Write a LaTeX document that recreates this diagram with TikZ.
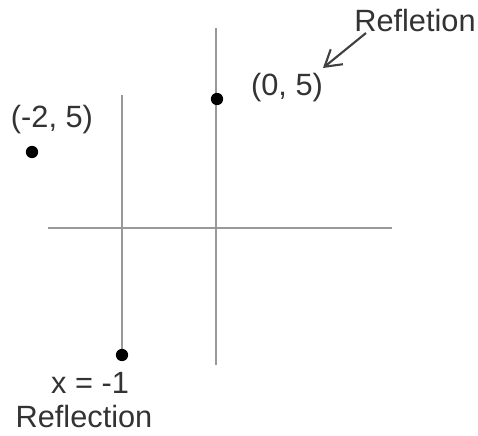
\documentclass[tikz,border=0pt]{standalone}
\usepackage{fontspec}
\setmainfont{Liberation Sans}
\usetikzlibrary{arrows.meta}
\tikzset{
  axis/.style={draw=gray!80, line width=1.2pt},
  pt/.style={circle, fill=black, inner sep=0pt, minimum size=7pt},
  lbl/.style={font=\fontsize{17.5}{21}\selectfont, text=black!80, inner sep=0pt}
}
\begin{document}
\begin{tikzpicture}[x=0.02cm, y=-0.02cm]
\useasboundingbox (0,0) rectangle (478,436);
\draw[axis] (48,228) -- (392,228);
\draw[axis] (216,28) -- (216,365);
\draw[axis] (122,95) -- (122,355);

\node[pt] (p0) at (217,99) {};
\node[pt] (p1) at (32,152) {};
\node[pt] (p2) at (122,355) {};

\node[lbl] (l0) at (287,88) {(0, 5)};
\node[lbl] (l1) at (52,120) {(-2, 5)};
\node[lbl] (l2) at (90,383) {x = -1};
\node[lbl] (l3) at (84,417) {Reflection};
\node[lbl] (rt) at (415,21) {Refletion};

\coordinate (tip) at (323,68);
\draw[-{Straight Barb[length=9pt,width=11pt]}, line width=1.2pt, black!75] (366,33) -- (tip);
\end{tikzpicture}
\end{document}
